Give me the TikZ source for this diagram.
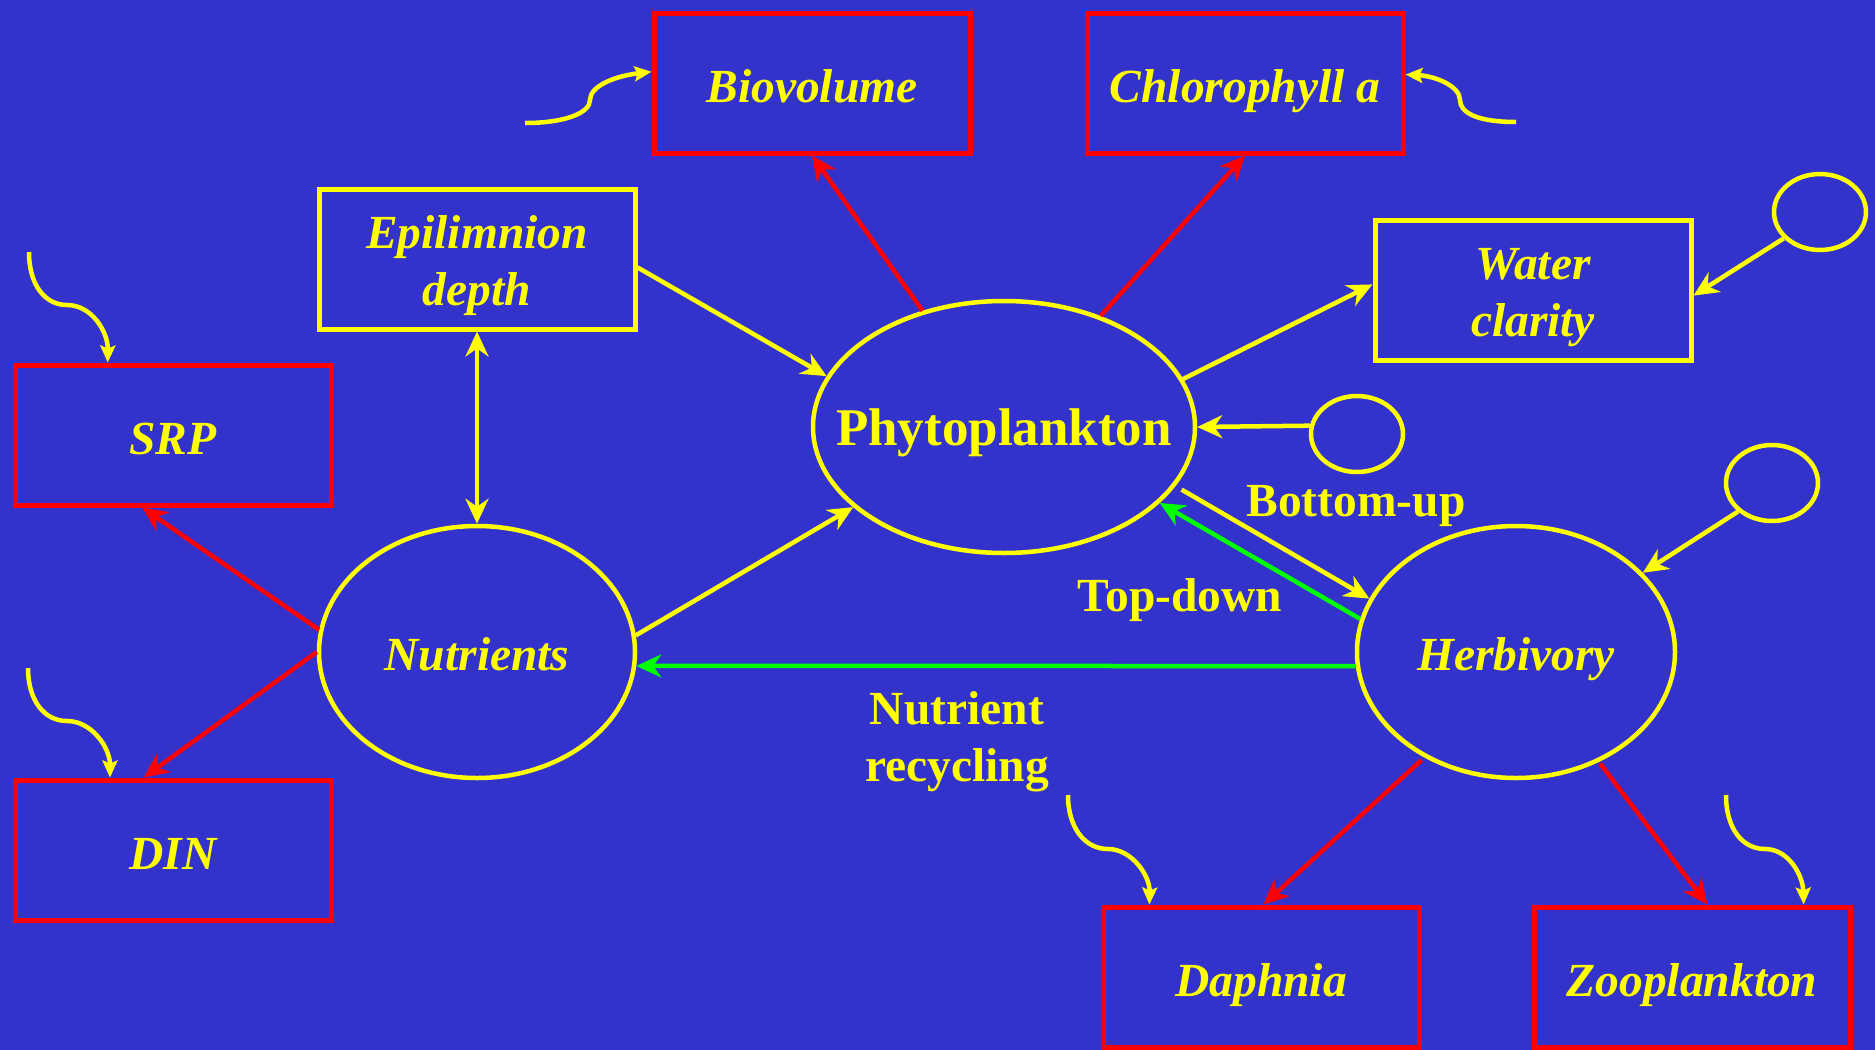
\documentclass[tikz,border=0pt]{standalone}
\usepackage{fontspec}
\setmainfont{Liberation Serif}
\usetikzlibrary{shapes.geometric,arrows.meta}
\definecolor{bg}{RGB}{51,51,204}
\definecolor{yel}{RGB}{255,255,0}
\definecolor{rd}{RGB}{255,0,0}
\definecolor{grn}{RGB}{0,255,0}

\begin{document}
\begin{tikzpicture}[x=1pt,y=-1pt,
  every node/.style={text=yel, align=center,
    font=\bfseries\itshape\fontsize{47.5}{57}\selectfont},
  redbox/.style={draw=rd, line width=5pt, rectangle, inner sep=0pt,
    minimum width=316, minimum height=140},
  yelbox/.style={redbox, draw=yel},
  oneline/.style={text height=44pt, text depth=6pt},
  oval/.style={draw=yel, line width=4.5pt, ellipse, inner sep=0pt,
    text height=40pt, text depth=4pt},
  errterm/.style={oval, minimum width=92, minimum height=76},
  link/.style={line width=4.5pt, -{Stealth[length=25pt,width=23pt,inset=8pt]}},
  twoway/.style={line width=4.5pt, {Stealth[length=25pt,width=23pt,inset=8pt]}-{Stealth[length=25pt,width=23pt,inset=8pt]}},
  wiggle/.style={draw=yel, line width=4.5pt, -{Stealth[length=17pt,width=15pt,inset=3pt]}},
  tag/.style={font=\bfseries\fontsize{47.5}{57}\selectfont}
]
\useasboundingbox (0,0) rectangle (1875,1050);
\fill[bg] (0,0) rectangle (1875,1050);

% observed indicators
\node[redbox, oneline] (bio)  at (812,83)   {Biovolume};
\node[redbox, oneline] (chl)  at (1245,83)  {Chlorophyll a};
\node[redbox, oneline] (srp)  at (173,435)  {SRP};
\node[redbox, oneline] (din)  at (173,850)  {DIN};
\node[redbox, oneline] (daph) at (1261,977) {Daphnia};
\node[redbox, oneline] (zoo)  at (1692,977) {Zooplankton};
\node[yelbox] (epi)  at (477,259)  {};
\node[yelbox] (wat)  at (1533,290) {};
\node (epit) at (477,266) {Epilimnion\\depth};
\node (watt) at (1533,298) {Water\\clarity};

% latent variables
\node[oval, minimum width=382, minimum height=252,
  font=\bfseries\fontsize{53}{60}\selectfont] (phy) at (1004,427) {\makebox[0pt]{Phytoplankton}};
\node[oval, minimum width=316, minimum height=252] (nut)  at (477,652)  {\makebox[0pt]{Nutrients}};
\node[oval, minimum width=318, minimum height=252] (herb) at (1516,652) {\makebox[0pt]{Herbivory}};

% error terms
\node[errterm] (ew) at (1820,212) {};
\node[errterm] (ep) at (1357,434) {};
\node[errterm] (eh) at (1772,483) {};

% structural paths
\draw[link, yel] (epi.-3.6) -- (phy.164.2);
\draw[twoway, yel] (epi.south) -- (nut.north);
\draw[link, yel] (nut.6.4) -- (phy.208.9);
\draw[link, yel] (phy.15.5) -- (wat.178);
\draw[link, yel] (ep.170) -- (phy.east);
\draw[link, yel, shorten <=7pt] (phy.-19.9) -- (herb.160.5);
\draw[link, grn] (herb.168) -- (phy.-26.4);
\draw[link, grn] (herb.185) -- (nut.-5);
\draw[link, yel] (ew.216.9) -- (wat.-2.5);
\draw[link, yel] (eh.220.5) -- (herb.32.2);

% measurement paths
\draw[link, rd] (phy.125.1) -- (bio.south);
\draw[link, rd] (phy.49.1) -- (chl.south);
\draw[link, rd] (nut.172.5) -- (srp.247.7);
\draw[link, rd] (nut.west) -- (din.112.6);
\draw[link, rd, shorten <=4pt] (herb.229.4) -- (daph.88);
\draw[link, rd, shorten <=2pt] (herb.-53.2) -- (zoo.78);

% measurement error inputs
\coordinate (wbio) at (525,123);
\coordinate (wchl) at (1516,122);
\coordinate (wsrp) at (29,252);
\coordinate (wdin) at (28,668);
\coordinate (wdap) at (1068,795);
\coordinate (wzoo) at (1726,795);
\draw[wiggle] (wbio) .. controls (565,123) and (590,113) .. (590,100)
  .. controls (590,86) and (615,76) .. (bio.176.8);
\draw[wiggle] (wchl) .. controls (1478,122) and (1460,113) .. (1460,100)
  .. controls (1460,86) and (1435,76) .. (chl.3);
\draw[wiggle] (wsrp) .. controls (29,285) and (45,305) .. (67,305)
  .. controls (92,305) and (108,332) .. (srp.132);
\draw[wiggle] (wdin) .. controls (28,700) and (44,721) .. (67,721)
  .. controls (92,721) and (110,748) .. (din.131);
\draw[wiggle] (wdap) .. controls (1068,828) and (1085,849) .. (1108,849)
  .. controls (1132,849) and (1150,876) .. (daph.147);
\draw[wiggle] (wzoo) .. controls (1726,828) and (1742,849) .. (1765,849)
  .. controls (1789,849) and (1803,876) .. (zoo.33);

% path labels
\node[tag] (lbu) at (1356,506) {Bottom-up};
\node[tag] (ltd) at (1180,600) {Top-down};
\node[tag] (lnr) at (957,742)  {Nutrient\\recycling};
\end{tikzpicture}
\end{document}
